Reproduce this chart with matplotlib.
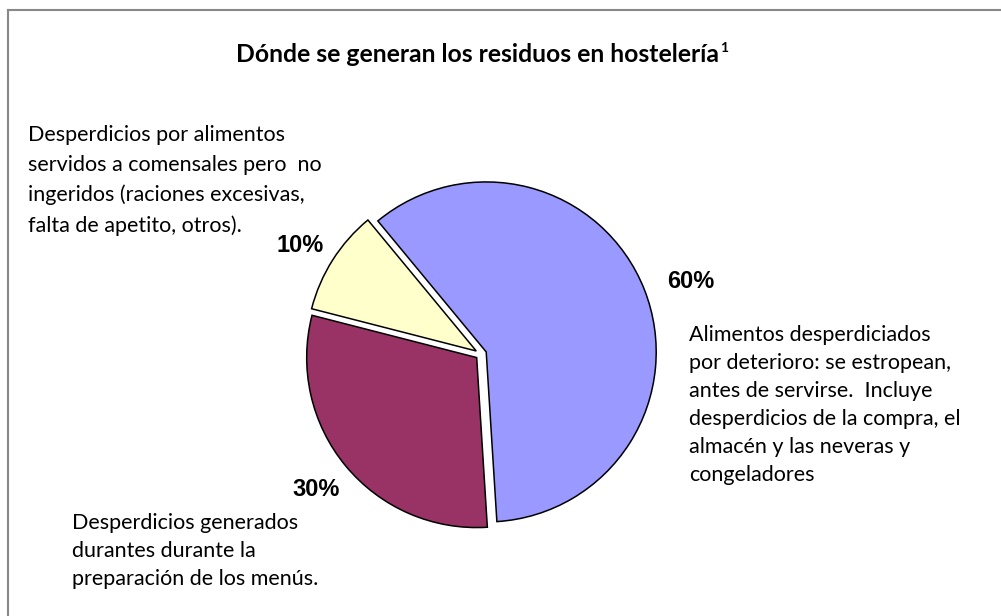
import numpy as np
import matplotlib.pyplot as plt
from matplotlib.lines import Line2D

# data
shares = [60, 30, 10]
pctLabels = ['60%', '30%', '10%']
sliceColors = ['#9999FF', '#993366', '#FFFFCC']
descriptions = [
    'Alimentos desperdiciados\npor deterioro: se estropean,\nantes de servirse.  Incluye\n'
    'desperdicios de la compra, el\nalmacén y las neveras y\ncongeladores',
    'Desperdicios generados\ndurantes durante la\npreparación de los menús.',
    'Desperdicios por alimentos\nservidos a comensales pero  no\ningeridos (raciones excesivas,\n'
    'falta de apetito, otros).',
]
title = 'Dónde se generan los residuos en hostelería'

W, H = 1001, 616
bodyFont = 'Lato'

fig = plt.figure(figsize=(W / 100, H / 100), dpi=100)
ax = fig.add_axes([0, 0, 1, 1])


def py(y):
    # pixel row (from top) to data y
    return H - y


# pie, all slices pulled out a little (explode is in data units here)
radius = 170
ax.pie(shares, colors=sliceColors, startangle=129.6, counterclock=False,
       explode=[5.6] * 3, center=(481, py(354)), radius=radius,
       wedgeprops={'edgecolor': 'black', 'linewidth': 1.1}, frame=False)
ax.set_xlim(0, W)
ax.set_ylim(0, H)
ax.set_aspect('auto')
ax.axis('off')

# percentage labels
pctPos = [(667, 282), (292, 490), (277, 245)]
for lab, (x, y) in zip(pctLabels, pctPos):
    ax.text(x, py(y), lab, fontsize=17, fontweight='bold',
            family='Liberation Sans', ha='left', va='center')

# category descriptions
descPos = [(689, 325), (72, 513), (28, 125)]
descSpacing = [1.5, 1.5, 1.6]
for txt, (x, y), ls in zip(descriptions, descPos, descSpacing):
    ax.text(x, py(y), txt, fontsize=15.5, family=bodyFont, ha='left',
            va='top', linespacing=ls)

# title with footnote mark
t = ax.text(478, py(54), title, fontsize=17.8, fontweight='bold',
            family=bodyFont, ha='center', va='center')
fig.canvas.draw()
bb = t.get_window_extent()
fig.text((bb.x1 + 1) / W, (bb.y1 - 5) / H, '1', fontsize=10,
         fontweight='bold', family=bodyFont, ha='left', va='center')

# chart border (top and left edges visible)
fig.add_artist(Line2D([8 / W, 1], [1 - 10 / H, 1 - 10 / H], color='#888888',
                      linewidth=1.5, transform=fig.transFigure))
fig.add_artist(Line2D([8 / W, 8 / W], [0, 1 - 10 / H], color='#888888',
                      linewidth=1.5, transform=fig.transFigure))

fig.savefig('out.png', dpi=100)
